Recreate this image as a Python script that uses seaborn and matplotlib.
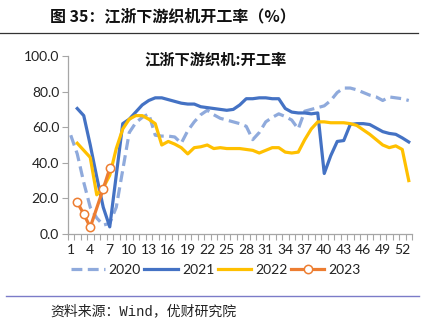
import numpy as np
import pandas as pd
import matplotlib
matplotlib.use("Agg")
import matplotlib.pyplot as plt
from matplotlib.lines import Line2D
from matplotlib.ticker import FixedLocator, FuncFormatter
import seaborn as sns

weeks = list(range(1, 54))
nan = np.nan
s2020 = [55.5, 45, 29, 15, 9, 5, 6, 15, 36, 57, 62.5, 65.5, 67.5, 55.5, 55, 55, 54.5, 51,
         58, 63, 67, 69.5, 67, 65, 64, 63, 62, 60.5, 53, 57, 63, 65.5, 67.5, 66, 64, 59,
         69, 70, 71, 72, 75, 79.5, 82, 82, 81, 79.5, 78, 77, 75, 77, 76.5, 76, 75]
s2021 = [nan, 70.5, 66.5, 50, 32, 15, 4, 33, 62, 64.5, 68.5, 72.5, 75, 76.5, 76.5, 75.5,
         74.5, 73.5, 73, 73, 71.5, 71, 70.5, 70, 69.5, 70, 72.5, 76, 76, 76.5, 76.5, 76,
         76, 70.5, 68.5, 68, 68, 67.5, 68, 34, 44, 52, 52.5, 61.5, 62, 62, 61.5, 59.5,
         57.5, 56.5, 56, 54, 51.7]
s2022 = [nan, 51, 47, 43, 22, 26, 33, 48, 59, 64.5, 66.5, 66.5, 64.5, 62, 50, 52, 50.5,
         48.5, 45, 48.5, 49, 50, 48, 48.5, 48, 48, 48, 47.5, 47, 45.5, 47, 48.5, 48.5, 46,
         45.5, 46, 53, 59, 63, 63, 62.5, 62.5, 62.5, 62, 61, 58.5, 56, 53, 50, 48.5, 49.5,
         47.5, 30]
s2023 = [nan, 17.8, 11.2, 3.8, nan, 25.4, 36.8] + [nan] * 46
xtick_labels = [str(w) for w in range(1, 53, 3)]
years = ["2020", "2021", "2022", "2023"]
colors = ["#8FAADC", "#4472C4", "#FFC000", "#ED7D31"]

df = pd.DataFrame({"week": weeks * 4,
                   "value": s2020 + s2021 + s2022 + s2023,
                   "year": sum([[y] * 53 for y in years], [])}).dropna()

plt.rcParams["font.family"] = ["Lato", "Noto Sans CJK SC", "DejaVu Sans"]
fig = plt.figure(figsize=(4.33, 3.25), dpi=100)
ax = fig.add_axes([67.5 / 433, 1 - 234 / 325, (412 - 67.5) / 433, (234 - 56) / 325])

for yr, c in zip(years, colors):
    d = df[df["year"] == yr]
    kw = dict(color=c, linewidth=2.3, ax=ax, legend=False, estimator=None, sort=True)
    if yr == "2020":
        sns.lineplot(data=d, x="week", y="value", dashes=False, **kw)
        ax.lines[-1].set_dashes([3.4, 1.7])
    elif yr == "2023":
        sns.lineplot(data=d, x="week", y="value", marker="o", markersize=6,
                     markerfacecolor="white", markeredgecolor=c, markeredgewidth=1.1, **kw)
    else:
        sns.lineplot(data=d, x="week", y="value", **kw)

ax.set_xlim(0.5, 53.5)
ax.set_ylim(0, 100)
ax.set_xlabel("")
ax.set_ylabel("")
ax.set_xticks([int(t) for t in xtick_labels])
ax.set_xticklabels(xtick_labels)
ax.xaxis.set_minor_locator(FixedLocator(np.arange(0.5, 54, 1)))
ax.tick_params(axis="x", which="major", length=0, pad=7, labelsize=10, colors="#222222")
ax.tick_params(axis="x", which="minor", length=4, width=0.8, color="#A6A6A6", direction="out")
ax.set_yticks(range(0, 101, 20))
ax.yaxis.set_major_formatter(FuncFormatter(lambda v, p: f"{v:.1f}"))
ax.tick_params(axis="y", length=4, width=0.8, color="#A6A6A6", labelsize=10,
               labelcolor="#222222", pad=2)
for s in ["top", "right"]:
    ax.spines[s].set_visible(False)
for s in ["left", "bottom"]:
    ax.spines[s].set_color("#A6A6A6")
    ax.spines[s].set_linewidth(0.9)
ax.set_facecolor("white")

cjk = ["Noto Sans CJK SC", "DejaVu Sans"]
fig.text(216 / 433, 1 - 59 / 325, "江浙下游织机:开工率", ha="center", va="center",
         fontsize=11, fontweight="bold", family=cjk, color="#111111")
fig.text(50 / 433, 1 - 16 / 325, "图 35：江浙下游织机开工率（%）", ha="left", va="center",
         fontsize=11.5, fontweight="bold", family=cjk, color="#111111")
fig.add_artist(Line2D([0, 418 / 433], [1 - 32.5 / 325] * 2, color="#333333", linewidth=0.9))
fig.add_artist(Line2D([6 / 433, 419 / 433], [1 - 296 / 325] * 2, color="#7B7BC8", linewidth=1.0))
fig.text(50 / 433, 1 - 311 / 325, "资料来源：Wind，优财研究院", ha="left", va="center",
         fontsize=10, family=["Liberation Mono", "Noto Sans CJK SC", "DejaVu Sans"],
         color="#222222")

handles = [
    Line2D([], [], color=colors[0], linewidth=2.3, dashes=[3.4, 1.7]),
    Line2D([], [], color=colors[1], linewidth=2.3),
    Line2D([], [], color=colors[2], linewidth=2.3),
    Line2D([], [], color=colors[3], linewidth=2.3, marker="o", markersize=6,
           markerfacecolor="white", markeredgecolor=colors[3], markeredgewidth=1.1),
]
fig.legend(handles, years, loc="center", bbox_to_anchor=(216 / 433, 1 - 270 / 325), ncol=4,
           frameon=False, fontsize=10, handlelength=2.4, handletextpad=0.3,
           columnspacing=0.25, borderpad=0, labelcolor="#222222")

fig.savefig("out.png", dpi=100, facecolor="white")
